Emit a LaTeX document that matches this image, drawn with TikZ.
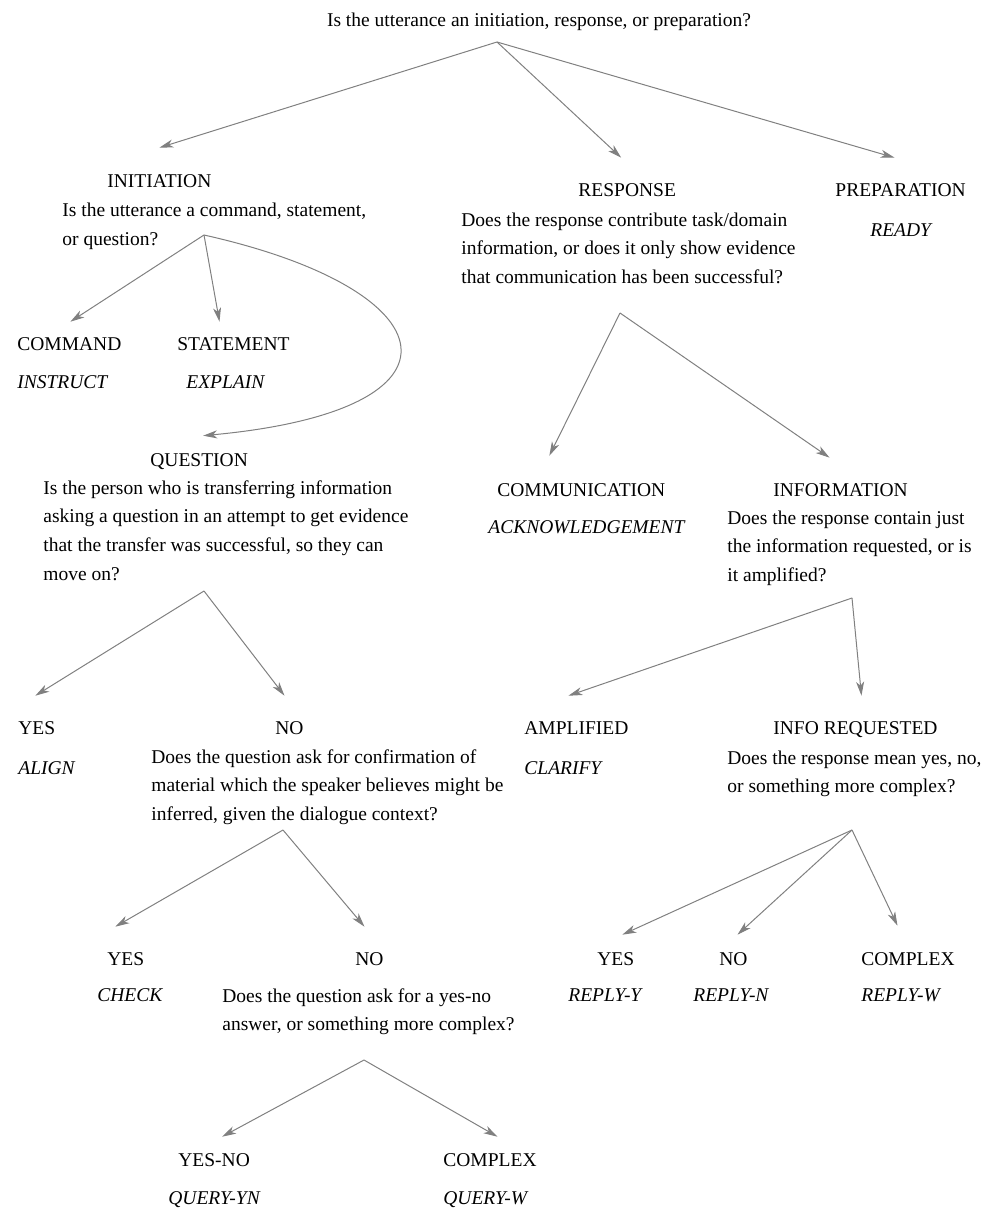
\documentclass[tikz,border=0pt]{standalone}
\usepackage{fontspec}
\setmainfont{Liberation Serif}
\usetikzlibrary{arrows.meta}
\definecolor{ArrowGray}{HTML}{808080}
\newcommand{\figfont}{\fontsize{9.75pt}{14.4pt}\selectfont}

\begin{document}
\begin{tikzpicture}[x=0.5pt, y=-0.5pt,
    every node/.style={inner sep=0pt, font=\figfont},
    cat/.style={anchor=base west},
    act/.style={anchor=base west, font=\figfont\itshape},
    ques/.style={anchor=base west, align=left},
    arr/.style={draw=ArrowGray, line width=0.5pt, -{Stealth[length=7pt, width=4pt, inset=2pt]}}]
  \useasboundingbox (0,0) rectangle (986,1209);

  % Root question
  \node[anchor=base] (root) at (539,27) {Is the utterance an initiation, response, or preparation?};
  \coordinate (qtop) at (497,42);

  % Initiation (question nodes sit on the baseline of their last line)
  \node[cat] (init) at (107,187.5) {INITIATION};
  \node[ques] (initq) at (62,245.8) {Is the utterance a command, statement,\\or question?};
  \coordinate (qinit) at (204,235);
  \node[cat] (command) at (17,350.5) {COMMAND};
  \node[act] (instruct) at (17,388.5) {INSTRUCT};
  \node[cat] (statement) at (177,350.5) {STATEMENT};
  \node[act] (explain) at (186,388.5) {EXPLAIN};

  % Question
  \node[cat] (question) at (150,466.5) {QUESTION};
  \node[ques] (questq) at (43,580.4) {Is the person who is transferring information\\asking a question in an attempt to get evidence\\that the transfer was successful, so they can\\move on?};
  \coordinate (qquest) at (204,591);
  \node[cat] (yesalign) at (18,734.5) {YES};
  \node[act] (align) at (18,774.5) {ALIGN};
  \node[cat] (noconf) at (275,734.5) {NO};
  \node[ques] (noconfq) at (151,820.6) {Does the question ask for confirmation of\\material which the speaker believes might be\\inferred, given the dialogue context?};
  \coordinate (qconf) at (283,830);
  \node[cat] (yescheck) at (107,965.5) {YES};
  \node[act] (check) at (97,1001) {CHECK};
  \node[cat] (noyn) at (355,965.5) {NO};
  \node[ques] (noynq) at (222,1030.8) {Does the question ask for a yes-no\\answer, or something more complex?};
  \coordinate (qyn) at (364,1060);
  \node[cat] (yesno) at (178,1166.5) {YES-NO};
  \node[act] (queryyn) at (168,1204.5) {QUERY-YN};
  \node[cat] (complexw) at (443,1166.5) {COMPLEX};
  \node[act] (queryw) at (443,1204.5) {QUERY-W};

  % Response
  \node[cat] (resp) at (578,196.5) {RESPONSE};
  \node[ques] (respq) at (461,283.6) {Does the response contribute task/domain\\information, or does it only show evidence\\that communication has been successful?};
  \coordinate (qresp) at (620,313);
  \node[cat] (comm) at (497,496.5) {COMMUNICATION};
  \node[act] (ack) at (488,533.5) {ACKNOWLEDGEMENT};
  \node[cat] (info) at (773,496.5) {INFORMATION};
  \node[ques] (infoq) at (727,581.6) {Does the response contain just\\the information requested, or is\\it amplified?};
  \coordinate (qinfo) at (852,598);
  \node[cat] (ampl) at (524,734.5) {AMPLIFIED};
  \node[act] (clarify) at (524,774.5) {CLARIFY};
  \node[cat] (inforeq) at (773,734.5) {INFO REQUESTED};
  \node[ques] (inforeqq) at (727,792.8) {Does the response mean yes, no,\\or something more complex?};
  \coordinate (qreq) at (852,830);
  \node[cat] (ryes) at (597,965.5) {YES};
  \node[act] (replyy) at (568,1001) {REPLY-Y};
  \node[cat] (rno) at (719,965.5) {NO};
  \node[act] (replyn) at (693,1001) {REPLY-N};
  \node[cat] (rcomplex) at (861,965.5) {COMPLEX};
  \node[act] (replyw) at (861,1001) {REPLY-W};

  % Preparation
  \node[cat] (prep) at (835,196.5) {PREPARATION};
  \node[act] (ready) at (870,236.5) {READY};

  % Connectors
  \draw[arr] (qtop) -- ([shift={(0,-26.5)}]init.north);
  \draw[arr] (qtop) -- ([shift={(-6,-25.5)}]resp.north);
  \draw[arr] (qtop) -- ([shift={(-6,-25.5)}]prep.north);
  \draw[arr] (qinit) -- ([shift={(1,-15.5)}]command.north);
  \draw[arr] (qinit) -- ([shift={(-14,-15.5)}]statement.north);
  \draw[arr] (qinit) .. controls (450,290) and (480,410) .. ([shift={(4,-17.5)}]question.north);
  \draw[arr] (qquest) -- ([shift={(-1.5,-25.5)}]yesalign.north);
  \draw[arr] (qquest) -- ([shift={(-5,-25.5)}]noconf.north);
  \draw[arr] (qconf) -- ([shift={(-10.5,-25.5)}]yescheck.north);
  \draw[arr] (qconf) -- ([shift={(-5,-25.5)}]noyn.north);
  \draw[arr] (qyn) -- ([shift={(8,-16.5)}]yesno.north);
  \draw[arr] (qyn) -- ([shift={(7.5,-16.5)}]complexw.north);
  \draw[arr] (qresp) -- ([shift={(-32,-27.5)}]comm.north);
  \draw[arr] (qresp) -- ([shift={(-11,-25.5)}]info.north);
  \draw[arr] (qinfo) -- ([shift={(-8,-25.5)}]ampl.north);
  \draw[arr] (qinfo) -- ([shift={(6,-25.5)}]inforeq.north);
  \foreach \n/\dx/\dy in {ryes/6.5/-17.5, rno/4/-17.5, rcomplex/-10.5/-26.5}
    \draw[arr] (qreq) -- ([shift={(\dx,\dy)}]\n.north);
\end{tikzpicture}
\end{document}
